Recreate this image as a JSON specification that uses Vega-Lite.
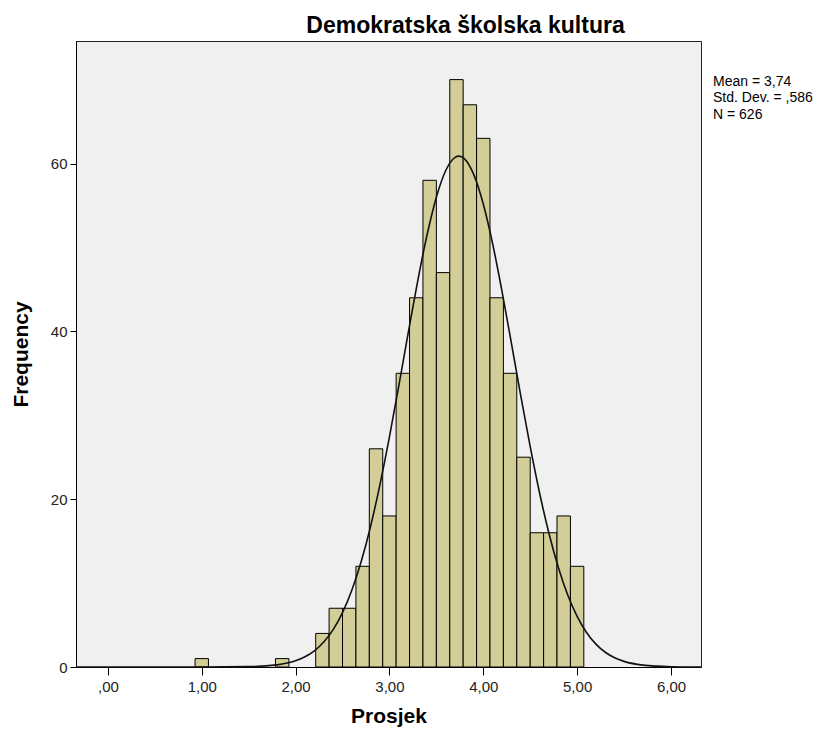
{
  "$schema": "https://vega.github.io/schema/vega-lite/v6.json",
  "autosize": {"type": "none"},
  "padding": {"left": 76, "top": 41, "right": 132, "bottom": 69},
  "width": 625,
  "height": 626,
  "background": "#ffffff",
  "title": {
    "text": "Demokratska školska kultura",
    "anchor": "middle",
    "frame": "group",
    "dx": 77,
    "offset": 3,
    "font": "Liberation Sans",
    "fontSize": 23,
    "fontWeight": "bold",
    "color": "#000000"
  },
  "datasets": {
    "bins": [
      {"start": 0.9286, "end": 1.0714, "count": 1},
      {"start": 1.7857, "end": 1.9286, "count": 1},
      {"start": 2.2143, "end": 2.3571, "count": 4},
      {"start": 2.3571, "end": 2.5, "count": 7},
      {"start": 2.5, "end": 2.6429, "count": 7},
      {"start": 2.6429, "end": 2.7857, "count": 12},
      {"start": 2.7857, "end": 2.9286, "count": 26},
      {"start": 2.9286, "end": 3.0714, "count": 18},
      {"start": 3.0714, "end": 3.2143, "count": 35},
      {"start": 3.2143, "end": 3.3571, "count": 44},
      {"start": 3.3571, "end": 3.5, "count": 58},
      {"start": 3.5, "end": 3.6429, "count": 47},
      {"start": 3.6429, "end": 3.7857, "count": 70},
      {"start": 3.7857, "end": 3.9286, "count": 67},
      {"start": 3.9286, "end": 4.0714, "count": 63},
      {"start": 4.0714, "end": 4.2143, "count": 44},
      {"start": 4.2143, "end": 4.3571, "count": 35},
      {"start": 4.3571, "end": 4.5, "count": 25},
      {"start": 4.5, "end": 4.6429, "count": 16},
      {"start": 4.6429, "end": 4.7857, "count": 16},
      {"start": 4.7857, "end": 4.9286, "count": 18},
      {"start": 4.9286, "end": 5.0714, "count": 12}
    ],
    "curve": [
      {"x": -0.34, "y": 0},
      {"x": 0.5, "y": 0},
      {"x": 1.0, "y": 0.001},
      {"x": 1.5, "y": 0.041},
      {"x": 1.8, "y": 0.254},
      {"x": 2.0, "y": 0.741},
      {"x": 2.1, "y": 1.213},
      {"x": 2.2, "y": 1.926},
      {"x": 2.3, "y": 2.974},
      {"x": 2.4, "y": 4.455},
      {"x": 2.5, "y": 6.49},
      {"x": 2.6, "y": 9.18},
      {"x": 2.7, "y": 12.6},
      {"x": 2.8, "y": 16.81},
      {"x": 2.9, "y": 21.8},
      {"x": 3.0, "y": 27.43},
      {"x": 3.1, "y": 33.53},
      {"x": 3.2, "y": 39.81},
      {"x": 3.3, "y": 45.93},
      {"x": 3.4, "y": 51.45},
      {"x": 3.5, "y": 55.99},
      {"x": 3.6, "y": 59.17},
      {"x": 3.7, "y": 60.74},
      {"x": 3.74, "y": 60.88},
      {"x": 3.8, "y": 60.56},
      {"x": 3.9, "y": 58.65},
      {"x": 4.0, "y": 55.17},
      {"x": 4.1, "y": 50.41},
      {"x": 4.2, "y": 44.74},
      {"x": 4.3, "y": 38.56},
      {"x": 4.4, "y": 32.28},
      {"x": 4.5, "y": 26.26},
      {"x": 4.6, "y": 20.74},
      {"x": 4.7, "y": 15.91},
      {"x": 4.8, "y": 11.86},
      {"x": 4.9, "y": 8.58},
      {"x": 5.0, "y": 6.03},
      {"x": 5.1, "y": 4.12},
      {"x": 5.2, "y": 2.73},
      {"x": 5.3, "y": 1.76},
      {"x": 5.4, "y": 1.1},
      {"x": 5.5, "y": 0.669},
      {"x": 5.7, "y": 0.227},
      {"x": 6.0, "y": 0.036},
      {"x": 6.32, "y": 0}
    ],
    "stats": [
      {"label": "Mean = 3,74\nStd. Dev. = ,586\nN = 626"}
    ]
  },
  "layer": [
    {
      "data": {"name": "bins"},
      "mark": {"type": "rect", "fill": "#D3CE97", "stroke": "#000000", "strokeWidth": 1},
      "encoding": {
        "x": {
          "field": "start",
          "type": "quantitative",
          "scale": {"domain": [-0.34, 6.32], "nice": false, "zero": false},
          "axis": {
            "values": [0, 1, 2, 3, 4, 5, 6],
            "labelExpr": "datum.value == 0 ? ',00' : replace(format(datum.value, '.2f'), '.', ',')",
            "title": "Prosjek",
            "titleFont": "Liberation Sans",
            "titleFontSize": 21,
            "titleFontWeight": "bold",
            "titleColor": "#000000",
            "titlePadding": 11,
            "labelFont": "Liberation Sans",
            "labelFontSize": 15,
            "labelColor": "#222222",
            "labelPadding": 4,
            "tickSize": 8,
            "tickColor": "#000000",
            "domainColor": "#000000",
            "grid": false
          }
        },
        "x2": {"field": "end"},
        "y": {
          "field": "count",
          "type": "quantitative",
          "scale": {"domain": [0, 74.6], "nice": false},
          "axis": {
            "values": [0, 20, 40, 60],
            "title": "Frequency",
            "titleFont": "Liberation Sans",
            "titleFontSize": 21,
            "titleFontWeight": "bold",
            "titleColor": "#000000",
            "titlePadding": 19,
            "labelFont": "Liberation Sans",
            "labelFontSize": 15,
            "labelColor": "#222222",
            "labelPadding": 3,
            "tickSize": 6,
            "tickColor": "#000000",
            "domainColor": "#000000",
            "grid": false
          }
        },
        "y2": {"datum": 0}
      }
    },
    {
      "data": {"name": "curve"},
      "mark": {"type": "line", "color": "#111111", "strokeWidth": 1.6, "interpolate": "monotone"},
      "encoding": {
        "x": {"field": "x", "type": "quantitative"},
        "y": {"field": "y", "type": "quantitative"}
      }
    },
    {
      "data": {"name": "stats"},
      "mark": {"type": "text", "align": "left", "baseline": "top", "lineBreak": "\n", "font": "Liberation Sans", "fontSize": 14, "lineHeight": 16.5, "color": "#000000", "dx": 12, "clip": false},
      "encoding": {
        "text": {"field": "label"},
        "x": {"datum": 6.32},
        "y": {"datum": 70.6}
      }
    }
  ],
  "config": {
    "view": {"fill": "#F0F0F0", "stroke": "#222222", "strokeWidth": 1}
  }
}
